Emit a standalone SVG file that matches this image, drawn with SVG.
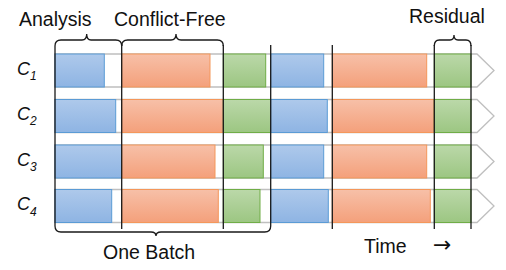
<svg xmlns="http://www.w3.org/2000/svg" width="506" height="270" viewBox="0 0 506 270">
<defs>
<linearGradient id="gb" x1="0" y1="0" x2="0" y2="1"><stop offset="0" stop-color="#aec9eb"/><stop offset="1" stop-color="#8eb4e3"/></linearGradient>
<linearGradient id="go" x1="0" y1="0" x2="0" y2="1"><stop offset="0" stop-color="#f7c0a8"/><stop offset="1" stop-color="#f4a07b"/></linearGradient>
<linearGradient id="gg" x1="0" y1="0" x2="0" y2="1"><stop offset="0" stop-color="#bbd8a9"/><stop offset="1" stop-color="#9cc682"/></linearGradient>
<style>
.row{fill:#fff;stroke:#bfbfbf;stroke-width:1.3}
.b{fill:url(#gb);stroke:#5b9bd5;stroke-width:1}
.o{fill:url(#go);stroke:#f4975b;stroke-width:1}
.g{fill:url(#gg);stroke:#70ad47;stroke-width:1}
.div{stroke:#1a1a1a;stroke-width:1.3;fill:none}
.br{stroke:#1a1a1a;stroke-width:1.3;fill:none}
.t{font-family:"Liberation Sans",Arial,sans-serif;font-size:19.5px;fill:#111}
.c{font-family:"Liberation Sans",Arial,sans-serif;font-style:italic;font-size:18px;fill:#111}
.s{font-size:12px}
</style>
</defs>
<g id="row-c1">
<polygon class="row" points="55,54 477,54 494,70.5 477,87 55,87"/>
<rect class="b" x="55" y="54" width="49.3" height="33"/>
<rect class="o" x="121.7" y="54" width="88.3" height="33"/>
<rect class="g" x="223.3" y="54" width="42.4" height="33"/>
<rect class="b" x="270.7" y="54" width="53" height="33"/>
<rect class="o" x="332.3" y="54" width="94.4" height="33"/>
<rect class="g" x="434.3" y="54" width="36.7" height="33"/>
<text class="c" x="17" y="74.5">C<tspan class="s" dy="5.5">1</tspan></text>
</g>
<g id="row-c2">
<polygon class="row" points="55,99.5 477,99.5 494,116 477,132.5 55,132.5"/>
<rect class="b" x="55" y="99.5" width="60.7" height="33"/>
<rect class="o" x="121.7" y="99.5" width="101.6" height="33"/>
<rect class="g" x="223.3" y="99.5" width="47.4" height="33"/>
<rect class="b" x="270.7" y="99.5" width="56.6" height="33"/>
<rect class="o" x="332.3" y="99.5" width="101.7" height="33"/>
<rect class="g" x="434.3" y="99.5" width="36.7" height="33"/>
<text class="c" x="17" y="119.5">C<tspan class="s" dy="5.5">2</tspan></text>
</g>
<g id="row-c3">
<polygon class="row" points="55,145 477,145 494,161.5 477,178 55,178"/>
<rect class="b" x="55" y="145" width="66.7" height="33"/>
<rect class="o" x="121.7" y="145" width="93.3" height="33"/>
<rect class="g" x="223.3" y="145" width="40" height="33"/>
<rect class="b" x="270.7" y="145" width="53" height="33"/>
<rect class="o" x="332.3" y="145" width="94.4" height="33"/>
<rect class="g" x="434.3" y="145" width="36.7" height="33"/>
<text class="c" x="17" y="165.5">C<tspan class="s" dy="5.5">3</tspan></text>
</g>
<g id="row-c4">
<polygon class="row" points="55,189.5 477,189.5 494,206 477,222.5 55,222.5"/>
<rect class="b" x="55" y="189.5" width="56.7" height="33"/>
<rect class="o" x="121.7" y="189.5" width="96.6" height="33"/>
<rect class="g" x="223.3" y="189.5" width="36.7" height="33"/>
<rect class="b" x="270.7" y="189.5" width="57.6" height="33"/>
<rect class="o" x="332.3" y="189.5" width="98" height="33"/>
<rect class="g" x="434.3" y="189.5" width="36.7" height="33"/>
<text class="c" x="17" y="210">C<tspan class="s" dy="5.5">4</tspan></text>
</g>
<g id="connectors">
<path class="div" d="M55,46V226 M121.7,44V229 M223.3,45V229 M270.7,45V226 M332.3,45V229 M434.3,45V229 M471,45V229"/>
</g>
<g id="brace-analysis">
<path class="br" d="M55,46 Q55,40 61,40 L82,40 Q86.7,40 86.7,34 Q86.7,40 91,40 L115.7,40 Q121.7,40 121.7,46"/>
<text class="t" x="19" y="26">Analysis</text>
</g>
<g id="brace-conflict-free">
<path class="br" d="M121.7,46 Q121.7,40 127.7,40 L171,40 Q176,40 176,34 Q176,40 181,40 L217.3,40 Q223.3,40 223.3,46"/>
<text class="t" x="114" y="26">Conflict-Free</text>
</g>
<g id="brace-residual">
<path class="br" d="M434.3,46 Q434.3,40 439.3,40 L450,40 Q454,40 454,35 Q454,40 458,40 L466,40 Q471,40 471,46"/>
<text class="t" x="409" y="23">Residual</text>
</g>
<g id="brace-one-batch">
<path class="br" d="M55,226 Q55,232 61,232 L151,232 Q156,232 156,236 Q156,232 161,232 L264.7,232 Q270.7,232 270.7,226"/>
<text class="t" x="103" y="259">One Batch</text>
</g>
<g id="time-label">
<text class="t" x="364" y="252.7">Time</text>
<text x="433" y="252" style="font-family:'DejaVu Sans',sans-serif;font-size:22px;fill:#111">→</text>
</g>
</svg>
